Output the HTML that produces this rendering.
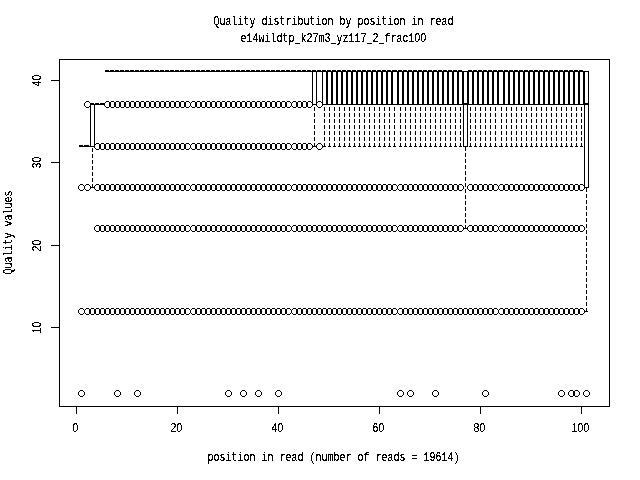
<!DOCTYPE html>
<html lang="en"><head><meta charset="utf-8"><title>Quality distribution by position in read</title>
<style>html,body{margin:0;padding:0;background:#fff}svg{display:block}text{font-family:"Liberation Mono","DejaVu Sans Mono",monospace;font-size:13.0px;fill:#000}text.d,tspan.z{font-family:"Liberation Sans","DejaVu Sans",sans-serif;font-size:13.0px}</style></head><body>
<svg width="640" height="480" viewBox="0 0 640 480">
<rect width="640" height="480" fill="#fff"/>
<defs><path id="c" d="M-1-3h3v1h-3zM-2-2h1v1h-1zM2-2h1v1h-1zM-3-1h1v3h-1zM3-1h1v3h-1zM-2 2h1v1h-1zM2 2h1v1h-1zM-1 3h3v1h-3z"/><filter id="bw" filterUnits="userSpaceOnUse" x="0" y="0" width="640" height="480" color-interpolation-filters="sRGB"><feComponentTransfer><feFuncA type="discrete" tableValues="0 0 0 0 0 0 0 0 0 0 0 0 0 0 0 0 1 1 1 1 1 1 1 1 1 1 1 1 1 1 1 1 1 1 1 1 1 1 1 1"/></feComponentTransfer></filter></defs>
<path shape-rendering="crispEdges" fill="#000" d="M79 146h5v1h-5zM79 146h5v1h-5zM79 146h1v1h-1zM83 146h1v1h-1zM79 145h4v2h-4zM80 146h3v1h-3zM80 146h3v1h-3zM84 146h6v1h-6zM84 146h6v1h-6zM84 146h1v1h-1zM89 146h1v1h-1zM84 145h5v2h-5zM86 146h3v1h-3zM86 146h3v1h-3zM90 146h5v1h-5zM90 104h5v1h-5zM90 104h1v43h-1zM94 104h1v43h-1zM90 103h4v2h-4zM92 184h1v4h-1zM92 178h1v4h-1zM92 172h1v4h-1zM92 166h1v4h-1zM92 160h1v4h-1zM92 154h1v4h-1zM92 148h1v4h-1zM91 187h3v1h-3zM91 104h3v1h-3zM95 104h5v1h-5zM95 104h5v1h-5zM95 104h1v1h-1zM99 104h1v1h-1zM95 103h4v2h-4zM96 104h3v1h-3zM96 104h3v1h-3zM100 104h5v1h-5zM100 104h5v1h-5zM100 104h1v1h-1zM104 104h1v1h-1zM100 103h4v2h-4zM101 104h3v1h-3zM101 104h3v1h-3zM105 71h5v1h-5zM105 71h5v1h-5zM105 71h1v1h-1zM109 71h1v1h-1zM105 70h4v2h-4zM106 71h3v1h-3zM106 71h3v1h-3zM110 71h5v1h-5zM110 71h5v1h-5zM110 71h1v1h-1zM114 71h1v1h-1zM110 70h4v2h-4zM111 71h3v1h-3zM111 71h3v1h-3zM115 71h5v1h-5zM115 71h5v1h-5zM115 71h1v1h-1zM119 71h1v1h-1zM115 70h4v2h-4zM116 71h3v1h-3zM116 71h3v1h-3zM120 71h5v1h-5zM120 71h5v1h-5zM120 71h1v1h-1zM124 71h1v1h-1zM120 70h4v2h-4zM121 71h3v1h-3zM121 71h3v1h-3zM125 71h5v1h-5zM125 71h5v1h-5zM125 71h1v1h-1zM129 71h1v1h-1zM125 70h4v2h-4zM126 71h3v1h-3zM126 71h3v1h-3zM130 71h5v1h-5zM130 71h5v1h-5zM130 71h1v1h-1zM134 71h1v1h-1zM130 70h4v2h-4zM131 71h3v1h-3zM131 71h3v1h-3zM135 71h5v1h-5zM135 71h5v1h-5zM135 71h1v1h-1zM139 71h1v1h-1zM135 70h4v2h-4zM136 71h3v1h-3zM136 71h3v1h-3zM140 71h5v1h-5zM140 71h5v1h-5zM140 71h1v1h-1zM144 71h1v1h-1zM140 70h4v2h-4zM141 71h3v1h-3zM141 71h3v1h-3zM145 71h5v1h-5zM145 71h5v1h-5zM145 71h1v1h-1zM149 71h1v1h-1zM145 70h4v2h-4zM146 71h3v1h-3zM146 71h3v1h-3zM150 71h5v1h-5zM150 71h5v1h-5zM150 71h1v1h-1zM154 71h1v1h-1zM150 70h4v2h-4zM151 71h3v1h-3zM151 71h3v1h-3zM155 71h5v1h-5zM155 71h5v1h-5zM155 71h1v1h-1zM159 71h1v1h-1zM155 70h4v2h-4zM156 71h3v1h-3zM156 71h3v1h-3zM160 71h5v1h-5zM160 71h5v1h-5zM160 71h1v1h-1zM164 71h1v1h-1zM160 70h4v2h-4zM161 71h3v1h-3zM161 71h3v1h-3zM165 71h5v1h-5zM165 71h5v1h-5zM165 71h1v1h-1zM169 71h1v1h-1zM165 70h4v2h-4zM166 71h3v1h-3zM166 71h3v1h-3zM170 71h5v1h-5zM170 71h5v1h-5zM170 71h1v1h-1zM174 71h1v1h-1zM170 70h4v2h-4zM171 71h3v1h-3zM171 71h3v1h-3zM175 71h5v1h-5zM175 71h5v1h-5zM175 71h1v1h-1zM179 71h1v1h-1zM175 70h4v2h-4zM176 71h3v1h-3zM176 71h3v1h-3zM180 71h5v1h-5zM180 71h5v1h-5zM180 71h1v1h-1zM184 71h1v1h-1zM180 70h4v2h-4zM181 71h3v1h-3zM181 71h3v1h-3zM185 71h6v1h-6zM185 71h6v1h-6zM185 71h1v1h-1zM190 71h1v1h-1zM185 70h5v2h-5zM186 71h3v1h-3zM186 71h3v1h-3zM191 71h5v1h-5zM191 71h5v1h-5zM191 71h1v1h-1zM195 71h1v1h-1zM191 70h4v2h-4zM192 71h3v1h-3zM192 71h3v1h-3zM196 71h5v1h-5zM196 71h5v1h-5zM196 71h1v1h-1zM200 71h1v1h-1zM196 70h4v2h-4zM197 71h3v1h-3zM197 71h3v1h-3zM201 71h5v1h-5zM201 71h5v1h-5zM201 71h1v1h-1zM205 71h1v1h-1zM201 70h4v2h-4zM202 71h3v1h-3zM202 71h3v1h-3zM206 71h5v1h-5zM206 71h5v1h-5zM206 71h1v1h-1zM210 71h1v1h-1zM206 70h4v2h-4zM207 71h3v1h-3zM207 71h3v1h-3zM211 71h5v1h-5zM211 71h5v1h-5zM211 71h1v1h-1zM215 71h1v1h-1zM211 70h4v2h-4zM212 71h3v1h-3zM212 71h3v1h-3zM216 71h5v1h-5zM216 71h5v1h-5zM216 71h1v1h-1zM220 71h1v1h-1zM216 70h4v2h-4zM217 71h3v1h-3zM217 71h3v1h-3zM221 71h5v1h-5zM221 71h5v1h-5zM221 71h1v1h-1zM225 71h1v1h-1zM221 70h4v2h-4zM222 71h3v1h-3zM222 71h3v1h-3zM226 71h5v1h-5zM226 71h5v1h-5zM226 71h1v1h-1zM230 71h1v1h-1zM226 70h4v2h-4zM227 71h3v1h-3zM227 71h3v1h-3zM231 71h5v1h-5zM231 71h5v1h-5zM231 71h1v1h-1zM235 71h1v1h-1zM231 70h4v2h-4zM232 71h3v1h-3zM232 71h3v1h-3zM236 71h5v1h-5zM236 71h5v1h-5zM236 71h1v1h-1zM240 71h1v1h-1zM236 70h4v2h-4zM237 71h3v1h-3zM237 71h3v1h-3zM241 71h5v1h-5zM241 71h5v1h-5zM241 71h1v1h-1zM245 71h1v1h-1zM241 70h4v2h-4zM242 71h3v1h-3zM242 71h3v1h-3zM246 71h5v1h-5zM246 71h5v1h-5zM246 71h1v1h-1zM250 71h1v1h-1zM246 70h4v2h-4zM247 71h3v1h-3zM247 71h3v1h-3zM251 71h5v1h-5zM251 71h5v1h-5zM251 71h1v1h-1zM255 71h1v1h-1zM251 70h4v2h-4zM252 71h3v1h-3zM252 71h3v1h-3zM256 71h5v1h-5zM256 71h5v1h-5zM256 71h1v1h-1zM260 71h1v1h-1zM256 70h4v2h-4zM257 71h3v1h-3zM257 71h3v1h-3zM261 71h5v1h-5zM261 71h5v1h-5zM261 71h1v1h-1zM265 71h1v1h-1zM261 70h4v2h-4zM262 71h3v1h-3zM262 71h3v1h-3zM266 71h5v1h-5zM266 71h5v1h-5zM266 71h1v1h-1zM270 71h1v1h-1zM266 70h4v2h-4zM267 71h3v1h-3zM267 71h3v1h-3zM271 71h5v1h-5zM271 71h5v1h-5zM271 71h1v1h-1zM275 71h1v1h-1zM271 70h4v2h-4zM272 71h3v1h-3zM272 71h3v1h-3zM276 71h5v1h-5zM276 71h5v1h-5zM276 71h1v1h-1zM280 71h1v1h-1zM276 70h4v2h-4zM277 71h3v1h-3zM277 71h3v1h-3zM281 71h5v1h-5zM281 71h5v1h-5zM281 71h1v1h-1zM285 71h1v1h-1zM281 70h4v2h-4zM282 71h3v1h-3zM282 71h3v1h-3zM286 71h5v1h-5zM286 71h5v1h-5zM286 71h1v1h-1zM290 71h1v1h-1zM286 70h4v2h-4zM287 71h3v1h-3zM287 71h3v1h-3zM291 71h6v1h-6zM291 71h6v1h-6zM291 71h1v1h-1zM296 71h1v1h-1zM291 70h5v2h-5zM293 71h3v1h-3zM293 71h3v1h-3zM297 71h5v1h-5zM297 71h5v1h-5zM297 71h1v1h-1zM301 71h1v1h-1zM297 70h4v2h-4zM298 71h3v1h-3zM298 71h3v1h-3zM302 71h5v1h-5zM302 71h5v1h-5zM302 71h1v1h-1zM306 71h1v1h-1zM302 70h4v2h-4zM303 71h3v1h-3zM303 71h3v1h-3zM307 71h5v1h-5zM307 71h5v1h-5zM307 71h1v1h-1zM311 71h1v1h-1zM307 70h4v2h-4zM308 71h3v1h-3zM308 71h3v1h-3zM312 104h5v1h-5zM312 71h5v1h-5zM312 71h1v34h-1zM316 71h1v34h-1zM312 70h4v2h-4zM314 143h1v4h-1zM314 137h1v4h-1zM314 131h1v4h-1zM314 125h1v4h-1zM314 119h1v4h-1zM314 113h1v4h-1zM314 107h1v4h-1zM314 104h1v1h-1zM313 146h3v1h-3zM313 71h3v1h-3zM317 71h5v1h-5zM317 71h5v1h-5zM317 71h1v1h-1zM321 71h1v1h-1zM317 70h4v2h-4zM318 71h3v1h-3zM318 71h3v1h-3zM322 104h5v1h-5zM322 71h5v1h-5zM322 71h1v34h-1zM326 71h1v34h-1zM322 70h4v2h-4zM324 143h1v4h-1zM324 137h1v4h-1zM324 131h1v4h-1zM324 125h1v4h-1zM324 119h1v4h-1zM324 113h1v4h-1zM324 107h1v4h-1zM324 104h1v1h-1zM323 146h3v1h-3zM323 71h3v1h-3zM327 104h5v1h-5zM327 71h5v1h-5zM327 71h1v34h-1zM331 71h1v34h-1zM327 70h4v2h-4zM329 143h1v4h-1zM329 137h1v4h-1zM329 131h1v4h-1zM329 125h1v4h-1zM329 119h1v4h-1zM329 113h1v4h-1zM329 107h1v4h-1zM329 104h1v1h-1zM328 146h3v1h-3zM328 71h3v1h-3zM332 104h5v1h-5zM332 71h5v1h-5zM332 71h1v34h-1zM336 71h1v34h-1zM332 70h4v2h-4zM334 143h1v4h-1zM334 137h1v4h-1zM334 131h1v4h-1zM334 125h1v4h-1zM334 119h1v4h-1zM334 113h1v4h-1zM334 107h1v4h-1zM334 104h1v1h-1zM333 146h3v1h-3zM333 71h3v1h-3zM337 104h5v1h-5zM337 71h5v1h-5zM337 71h1v34h-1zM341 71h1v34h-1zM337 70h4v2h-4zM339 143h1v4h-1zM339 137h1v4h-1zM339 131h1v4h-1zM339 125h1v4h-1zM339 119h1v4h-1zM339 113h1v4h-1zM339 107h1v4h-1zM339 104h1v1h-1zM338 146h3v1h-3zM338 71h3v1h-3zM342 104h5v1h-5zM342 71h5v1h-5zM342 71h1v34h-1zM346 71h1v34h-1zM342 70h4v2h-4zM344 143h1v4h-1zM344 137h1v4h-1zM344 131h1v4h-1zM344 125h1v4h-1zM344 119h1v4h-1zM344 113h1v4h-1zM344 107h1v4h-1zM344 104h1v1h-1zM343 146h3v1h-3zM343 71h3v1h-3zM347 104h5v1h-5zM347 71h5v1h-5zM347 71h1v34h-1zM351 71h1v34h-1zM347 70h4v2h-4zM349 143h1v4h-1zM349 137h1v4h-1zM349 131h1v4h-1zM349 125h1v4h-1zM349 119h1v4h-1zM349 113h1v4h-1zM349 107h1v4h-1zM349 104h1v1h-1zM348 146h3v1h-3zM348 71h3v1h-3zM352 104h5v1h-5zM352 71h5v1h-5zM352 71h1v34h-1zM356 71h1v34h-1zM352 70h4v2h-4zM354 143h1v4h-1zM354 137h1v4h-1zM354 131h1v4h-1zM354 125h1v4h-1zM354 119h1v4h-1zM354 113h1v4h-1zM354 107h1v4h-1zM354 104h1v1h-1zM353 146h3v1h-3zM353 71h3v1h-3zM357 104h5v1h-5zM357 71h5v1h-5zM357 71h1v34h-1zM361 71h1v34h-1zM357 70h4v2h-4zM359 143h1v4h-1zM359 137h1v4h-1zM359 131h1v4h-1zM359 125h1v4h-1zM359 119h1v4h-1zM359 113h1v4h-1zM359 107h1v4h-1zM359 104h1v1h-1zM358 146h3v1h-3zM358 71h3v1h-3zM362 104h5v1h-5zM362 71h5v1h-5zM362 71h1v34h-1zM366 71h1v34h-1zM362 70h4v2h-4zM364 143h1v4h-1zM364 137h1v4h-1zM364 131h1v4h-1zM364 125h1v4h-1zM364 119h1v4h-1zM364 113h1v4h-1zM364 107h1v4h-1zM364 104h1v1h-1zM363 146h3v1h-3zM363 71h3v1h-3zM367 104h5v1h-5zM367 71h5v1h-5zM367 71h1v34h-1zM371 71h1v34h-1zM367 70h4v2h-4zM369 143h1v4h-1zM369 137h1v4h-1zM369 131h1v4h-1zM369 125h1v4h-1zM369 119h1v4h-1zM369 113h1v4h-1zM369 107h1v4h-1zM369 104h1v1h-1zM368 146h3v1h-3zM368 71h3v1h-3zM372 104h5v1h-5zM372 71h5v1h-5zM372 71h1v34h-1zM376 71h1v34h-1zM372 70h4v2h-4zM374 143h1v4h-1zM374 137h1v4h-1zM374 131h1v4h-1zM374 125h1v4h-1zM374 119h1v4h-1zM374 113h1v4h-1zM374 107h1v4h-1zM374 104h1v1h-1zM373 146h3v1h-3zM373 71h3v1h-3zM377 104h5v1h-5zM377 71h5v1h-5zM377 71h1v34h-1zM381 71h1v34h-1zM377 70h4v2h-4zM379 143h1v4h-1zM379 137h1v4h-1zM379 131h1v4h-1zM379 125h1v4h-1zM379 119h1v4h-1zM379 113h1v4h-1zM379 107h1v4h-1zM379 104h1v1h-1zM378 146h3v1h-3zM378 71h3v1h-3zM382 104h5v1h-5zM382 71h5v1h-5zM382 71h1v34h-1zM386 71h1v34h-1zM382 70h4v2h-4zM384 143h1v4h-1zM384 137h1v4h-1zM384 131h1v4h-1zM384 125h1v4h-1zM384 119h1v4h-1zM384 113h1v4h-1zM384 107h1v4h-1zM384 104h1v1h-1zM383 146h3v1h-3zM383 71h3v1h-3zM387 104h5v1h-5zM387 71h5v1h-5zM387 71h1v34h-1zM391 71h1v34h-1zM387 70h4v2h-4zM389 143h1v4h-1zM389 137h1v4h-1zM389 131h1v4h-1zM389 125h1v4h-1zM389 119h1v4h-1zM389 113h1v4h-1zM389 107h1v4h-1zM389 104h1v1h-1zM388 146h3v1h-3zM388 71h3v1h-3zM392 104h6v1h-6zM392 71h6v1h-6zM392 71h1v34h-1zM397 71h1v34h-1zM392 70h5v2h-5zM394 143h1v4h-1zM394 137h1v4h-1zM394 131h1v4h-1zM394 125h1v4h-1zM394 119h1v4h-1zM394 113h1v4h-1zM394 107h1v4h-1zM394 104h1v1h-1zM393 146h3v1h-3zM393 71h3v1h-3zM398 104h5v1h-5zM398 71h5v1h-5zM398 71h1v34h-1zM402 71h1v34h-1zM398 70h4v2h-4zM400 143h1v4h-1zM400 137h1v4h-1zM400 131h1v4h-1zM400 125h1v4h-1zM400 119h1v4h-1zM400 113h1v4h-1zM400 107h1v4h-1zM400 104h1v1h-1zM399 146h3v1h-3zM399 71h3v1h-3zM403 104h5v1h-5zM403 71h5v1h-5zM403 71h1v34h-1zM407 71h1v34h-1zM403 70h4v2h-4zM405 143h1v4h-1zM405 137h1v4h-1zM405 131h1v4h-1zM405 125h1v4h-1zM405 119h1v4h-1zM405 113h1v4h-1zM405 107h1v4h-1zM405 104h1v1h-1zM404 146h3v1h-3zM404 71h3v1h-3zM408 104h5v1h-5zM408 71h5v1h-5zM408 71h1v34h-1zM412 71h1v34h-1zM408 70h4v2h-4zM410 143h1v4h-1zM410 137h1v4h-1zM410 131h1v4h-1zM410 125h1v4h-1zM410 119h1v4h-1zM410 113h1v4h-1zM410 107h1v4h-1zM410 104h1v1h-1zM409 146h3v1h-3zM409 71h3v1h-3zM413 104h5v1h-5zM413 71h5v1h-5zM413 71h1v34h-1zM417 71h1v34h-1zM413 70h4v2h-4zM415 143h1v4h-1zM415 137h1v4h-1zM415 131h1v4h-1zM415 125h1v4h-1zM415 119h1v4h-1zM415 113h1v4h-1zM415 107h1v4h-1zM415 104h1v1h-1zM414 146h3v1h-3zM414 71h3v1h-3zM418 104h5v1h-5zM418 71h5v1h-5zM418 71h1v34h-1zM422 71h1v34h-1zM418 70h4v2h-4zM420 143h1v4h-1zM420 137h1v4h-1zM420 131h1v4h-1zM420 125h1v4h-1zM420 119h1v4h-1zM420 113h1v4h-1zM420 107h1v4h-1zM420 104h1v1h-1zM419 146h3v1h-3zM419 71h3v1h-3zM423 104h5v1h-5zM423 71h5v1h-5zM423 71h1v34h-1zM427 71h1v34h-1zM423 70h4v2h-4zM425 143h1v4h-1zM425 137h1v4h-1zM425 131h1v4h-1zM425 125h1v4h-1zM425 119h1v4h-1zM425 113h1v4h-1zM425 107h1v4h-1zM425 104h1v1h-1zM424 146h3v1h-3zM424 71h3v1h-3zM428 104h5v1h-5zM428 71h5v1h-5zM428 71h1v34h-1zM432 71h1v34h-1zM428 70h4v2h-4zM430 143h1v4h-1zM430 137h1v4h-1zM430 131h1v4h-1zM430 125h1v4h-1zM430 119h1v4h-1zM430 113h1v4h-1zM430 107h1v4h-1zM430 104h1v1h-1zM429 146h3v1h-3zM429 71h3v1h-3zM433 104h5v1h-5zM433 71h5v1h-5zM433 71h1v34h-1zM437 71h1v34h-1zM433 70h4v2h-4zM435 143h1v4h-1zM435 137h1v4h-1zM435 131h1v4h-1zM435 125h1v4h-1zM435 119h1v4h-1zM435 113h1v4h-1zM435 107h1v4h-1zM435 104h1v1h-1zM434 146h3v1h-3zM434 71h3v1h-3zM438 104h5v1h-5zM438 71h5v1h-5zM438 71h1v34h-1zM442 71h1v34h-1zM438 70h4v2h-4zM440 143h1v4h-1zM440 137h1v4h-1zM440 131h1v4h-1zM440 125h1v4h-1zM440 119h1v4h-1zM440 113h1v4h-1zM440 107h1v4h-1zM440 104h1v1h-1zM439 146h3v1h-3zM439 71h3v1h-3zM443 104h5v1h-5zM443 71h5v1h-5zM443 71h1v34h-1zM447 71h1v34h-1zM443 70h4v2h-4zM445 143h1v4h-1zM445 137h1v4h-1zM445 131h1v4h-1zM445 125h1v4h-1zM445 119h1v4h-1zM445 113h1v4h-1zM445 107h1v4h-1zM445 104h1v1h-1zM444 146h3v1h-3zM444 71h3v1h-3zM448 104h5v1h-5zM448 71h5v1h-5zM448 71h1v34h-1zM452 71h1v34h-1zM448 70h4v2h-4zM450 143h1v4h-1zM450 137h1v4h-1zM450 131h1v4h-1zM450 125h1v4h-1zM450 119h1v4h-1zM450 113h1v4h-1zM450 107h1v4h-1zM450 104h1v1h-1zM449 146h3v1h-3zM449 71h3v1h-3zM453 104h5v1h-5zM453 71h5v1h-5zM453 71h1v34h-1zM457 71h1v34h-1zM453 70h4v2h-4zM455 143h1v4h-1zM455 137h1v4h-1zM455 131h1v4h-1zM455 125h1v4h-1zM455 119h1v4h-1zM455 113h1v4h-1zM455 107h1v4h-1zM455 104h1v1h-1zM454 146h3v1h-3zM454 71h3v1h-3zM458 104h5v1h-5zM458 71h5v1h-5zM458 71h1v34h-1zM462 71h1v34h-1zM458 70h4v2h-4zM460 143h1v4h-1zM460 137h1v4h-1zM460 131h1v4h-1zM460 125h1v4h-1zM460 119h1v4h-1zM460 113h1v4h-1zM460 107h1v4h-1zM460 104h1v1h-1zM459 146h3v1h-3zM459 71h3v1h-3zM463 146h5v1h-5zM463 71h5v1h-5zM463 71h1v76h-1zM467 71h1v76h-1zM463 103h4v2h-4zM465 225h1v4h-1zM465 219h1v4h-1zM465 213h1v4h-1zM465 207h1v4h-1zM465 201h1v4h-1zM465 195h1v4h-1zM465 189h1v4h-1zM465 183h1v4h-1zM465 177h1v4h-1zM465 171h1v4h-1zM465 165h1v4h-1zM465 159h1v4h-1zM465 153h1v4h-1zM465 147h1v4h-1zM464 228h3v1h-3zM464 71h3v1h-3zM468 104h5v1h-5zM468 71h5v1h-5zM468 71h1v34h-1zM472 71h1v34h-1zM468 70h4v2h-4zM470 143h1v4h-1zM470 137h1v4h-1zM470 131h1v4h-1zM470 125h1v4h-1zM470 119h1v4h-1zM470 113h1v4h-1zM470 107h1v4h-1zM470 104h1v1h-1zM469 146h3v1h-3zM469 71h3v1h-3zM473 104h5v1h-5zM473 71h5v1h-5zM473 71h1v34h-1zM477 71h1v34h-1zM473 70h4v2h-4zM475 143h1v4h-1zM475 137h1v4h-1zM475 131h1v4h-1zM475 125h1v4h-1zM475 119h1v4h-1zM475 113h1v4h-1zM475 107h1v4h-1zM475 104h1v1h-1zM474 146h3v1h-3zM474 71h3v1h-3zM478 104h5v1h-5zM478 71h5v1h-5zM478 71h1v34h-1zM482 71h1v34h-1zM478 70h4v2h-4zM480 143h1v4h-1zM480 137h1v4h-1zM480 131h1v4h-1zM480 125h1v4h-1zM480 119h1v4h-1zM480 113h1v4h-1zM480 107h1v4h-1zM480 104h1v1h-1zM479 146h3v1h-3zM479 71h3v1h-3zM483 104h5v1h-5zM483 71h5v1h-5zM483 71h1v34h-1zM487 71h1v34h-1zM483 70h4v2h-4zM485 143h1v4h-1zM485 137h1v4h-1zM485 131h1v4h-1zM485 125h1v4h-1zM485 119h1v4h-1zM485 113h1v4h-1zM485 107h1v4h-1zM485 104h1v1h-1zM484 146h3v1h-3zM484 71h3v1h-3zM488 104h5v1h-5zM488 71h5v1h-5zM488 71h1v34h-1zM492 71h1v34h-1zM488 70h4v2h-4zM490 143h1v4h-1zM490 137h1v4h-1zM490 131h1v4h-1zM490 125h1v4h-1zM490 119h1v4h-1zM490 113h1v4h-1zM490 107h1v4h-1zM490 104h1v1h-1zM489 146h3v1h-3zM489 71h3v1h-3zM493 104h5v1h-5zM493 71h5v1h-5zM493 71h1v34h-1zM497 71h1v34h-1zM493 70h4v2h-4zM495 143h1v4h-1zM495 137h1v4h-1zM495 131h1v4h-1zM495 125h1v4h-1zM495 119h1v4h-1zM495 113h1v4h-1zM495 107h1v4h-1zM495 104h1v1h-1zM494 146h3v1h-3zM494 71h3v1h-3zM498 104h6v1h-6zM498 71h6v1h-6zM498 71h1v34h-1zM503 71h1v34h-1zM498 70h5v2h-5zM501 143h1v4h-1zM501 137h1v4h-1zM501 131h1v4h-1zM501 125h1v4h-1zM501 119h1v4h-1zM501 113h1v4h-1zM501 107h1v4h-1zM501 104h1v1h-1zM499 146h4v1h-4zM499 71h4v1h-4zM504 104h5v1h-5zM504 71h5v1h-5zM504 71h1v34h-1zM508 71h1v34h-1zM504 70h4v2h-4zM506 143h1v4h-1zM506 137h1v4h-1zM506 131h1v4h-1zM506 125h1v4h-1zM506 119h1v4h-1zM506 113h1v4h-1zM506 107h1v4h-1zM506 104h1v1h-1zM505 146h3v1h-3zM505 71h3v1h-3zM509 104h5v1h-5zM509 71h5v1h-5zM509 71h1v34h-1zM513 71h1v34h-1zM509 70h4v2h-4zM511 143h1v4h-1zM511 137h1v4h-1zM511 131h1v4h-1zM511 125h1v4h-1zM511 119h1v4h-1zM511 113h1v4h-1zM511 107h1v4h-1zM511 104h1v1h-1zM510 146h3v1h-3zM510 71h3v1h-3zM514 104h5v1h-5zM514 71h5v1h-5zM514 71h1v34h-1zM518 71h1v34h-1zM514 70h4v2h-4zM516 143h1v4h-1zM516 137h1v4h-1zM516 131h1v4h-1zM516 125h1v4h-1zM516 119h1v4h-1zM516 113h1v4h-1zM516 107h1v4h-1zM516 104h1v1h-1zM515 146h3v1h-3zM515 71h3v1h-3zM519 104h5v1h-5zM519 71h5v1h-5zM519 71h1v34h-1zM523 71h1v34h-1zM519 70h4v2h-4zM521 143h1v4h-1zM521 137h1v4h-1zM521 131h1v4h-1zM521 125h1v4h-1zM521 119h1v4h-1zM521 113h1v4h-1zM521 107h1v4h-1zM521 104h1v1h-1zM520 146h3v1h-3zM520 71h3v1h-3zM524 104h5v1h-5zM524 71h5v1h-5zM524 71h1v34h-1zM528 71h1v34h-1zM524 70h4v2h-4zM526 143h1v4h-1zM526 137h1v4h-1zM526 131h1v4h-1zM526 125h1v4h-1zM526 119h1v4h-1zM526 113h1v4h-1zM526 107h1v4h-1zM526 104h1v1h-1zM525 146h3v1h-3zM525 71h3v1h-3zM529 104h5v1h-5zM529 71h5v1h-5zM529 71h1v34h-1zM533 71h1v34h-1zM529 70h4v2h-4zM531 143h1v4h-1zM531 137h1v4h-1zM531 131h1v4h-1zM531 125h1v4h-1zM531 119h1v4h-1zM531 113h1v4h-1zM531 107h1v4h-1zM531 104h1v1h-1zM530 146h3v1h-3zM530 71h3v1h-3zM534 104h5v1h-5zM534 71h5v1h-5zM534 71h1v34h-1zM538 71h1v34h-1zM534 70h4v2h-4zM536 143h1v4h-1zM536 137h1v4h-1zM536 131h1v4h-1zM536 125h1v4h-1zM536 119h1v4h-1zM536 113h1v4h-1zM536 107h1v4h-1zM536 104h1v1h-1zM535 146h3v1h-3zM535 71h3v1h-3zM539 104h5v1h-5zM539 71h5v1h-5zM539 71h1v34h-1zM543 71h1v34h-1zM539 70h4v2h-4zM541 143h1v4h-1zM541 137h1v4h-1zM541 131h1v4h-1zM541 125h1v4h-1zM541 119h1v4h-1zM541 113h1v4h-1zM541 107h1v4h-1zM541 104h1v1h-1zM540 146h3v1h-3zM540 71h3v1h-3zM544 104h5v1h-5zM544 71h5v1h-5zM544 71h1v34h-1zM548 71h1v34h-1zM544 70h4v2h-4zM546 143h1v4h-1zM546 137h1v4h-1zM546 131h1v4h-1zM546 125h1v4h-1zM546 119h1v4h-1zM546 113h1v4h-1zM546 107h1v4h-1zM546 104h1v1h-1zM545 146h3v1h-3zM545 71h3v1h-3zM549 104h5v1h-5zM549 71h5v1h-5zM549 71h1v34h-1zM553 71h1v34h-1zM549 70h4v2h-4zM551 143h1v4h-1zM551 137h1v4h-1zM551 131h1v4h-1zM551 125h1v4h-1zM551 119h1v4h-1zM551 113h1v4h-1zM551 107h1v4h-1zM551 104h1v1h-1zM550 146h3v1h-3zM550 71h3v1h-3zM554 104h5v1h-5zM554 71h5v1h-5zM554 71h1v34h-1zM558 71h1v34h-1zM554 70h4v2h-4zM556 143h1v4h-1zM556 137h1v4h-1zM556 131h1v4h-1zM556 125h1v4h-1zM556 119h1v4h-1zM556 113h1v4h-1zM556 107h1v4h-1zM556 104h1v1h-1zM555 146h3v1h-3zM555 71h3v1h-3zM559 104h5v1h-5zM559 71h5v1h-5zM559 71h1v34h-1zM563 71h1v34h-1zM559 70h4v2h-4zM561 143h1v4h-1zM561 137h1v4h-1zM561 131h1v4h-1zM561 125h1v4h-1zM561 119h1v4h-1zM561 113h1v4h-1zM561 107h1v4h-1zM561 104h1v1h-1zM560 146h3v1h-3zM560 71h3v1h-3zM564 104h5v1h-5zM564 71h5v1h-5zM564 71h1v34h-1zM568 71h1v34h-1zM564 70h4v2h-4zM566 143h1v4h-1zM566 137h1v4h-1zM566 131h1v4h-1zM566 125h1v4h-1zM566 119h1v4h-1zM566 113h1v4h-1zM566 107h1v4h-1zM566 104h1v1h-1zM565 146h3v1h-3zM565 71h3v1h-3zM569 104h5v1h-5zM569 71h5v1h-5zM569 71h1v34h-1zM573 71h1v34h-1zM569 70h4v2h-4zM571 143h1v4h-1zM571 137h1v4h-1zM571 131h1v4h-1zM571 125h1v4h-1zM571 119h1v4h-1zM571 113h1v4h-1zM571 107h1v4h-1zM571 104h1v1h-1zM570 146h3v1h-3zM570 71h3v1h-3zM574 104h5v1h-5zM574 71h5v1h-5zM574 71h1v34h-1zM578 71h1v34h-1zM574 70h4v2h-4zM576 143h1v4h-1zM576 137h1v4h-1zM576 131h1v4h-1zM576 125h1v4h-1zM576 119h1v4h-1zM576 113h1v4h-1zM576 107h1v4h-1zM576 104h1v1h-1zM575 146h3v1h-3zM575 71h3v1h-3zM579 104h5v1h-5zM579 71h5v1h-5zM579 71h1v34h-1zM583 71h1v34h-1zM579 70h4v2h-4zM581 143h1v4h-1zM581 137h1v4h-1zM581 131h1v4h-1zM581 125h1v4h-1zM581 119h1v4h-1zM581 113h1v4h-1zM581 107h1v4h-1zM581 104h1v1h-1zM580 146h3v1h-3zM580 71h3v1h-3zM584 187h5v1h-5zM584 71h5v1h-5zM584 71h1v117h-1zM588 71h1v117h-1zM584 103h4v2h-4zM586 308h1v4h-1zM586 302h1v4h-1zM586 296h1v4h-1zM586 290h1v4h-1zM586 284h1v4h-1zM586 278h1v4h-1zM586 272h1v4h-1zM586 266h1v4h-1zM586 260h1v4h-1zM586 254h1v4h-1zM586 248h1v4h-1zM586 242h1v4h-1zM586 236h1v4h-1zM586 230h1v4h-1zM586 224h1v4h-1zM586 218h1v4h-1zM586 212h1v4h-1zM586 206h1v4h-1zM586 200h1v4h-1zM586 194h1v4h-1zM586 188h1v4h-1zM585 311h3v1h-3zM585 71h3v1h-3zM59 59h551v1h-551zM59 406h551v1h-551zM59 59h1v348h-1zM609 59h1v348h-1zM76 406h1v8h-1zM177 406h1v8h-1zM278 406h1v8h-1zM379 406h1v8h-1zM480 406h1v8h-1zM581 406h1v8h-1zM51 327h9v1h-9zM51 245h9v1h-9zM51 162h9v1h-9zM51 80h9v1h-9z"/>
<g shape-rendering="crispEdges" fill="#000">
<use href="#c" x="81" y="187"/><use href="#c" x="81" y="311"/><use href="#c" x="81" y="393"/><use href="#c" x="87" y="104"/><use href="#c" x="87" y="187"/><use href="#c" x="87" y="311"/><use href="#c" x="92" y="311"/><use href="#c" x="97" y="146"/><use href="#c" x="97" y="187"/><use href="#c" x="97" y="228"/><use href="#c" x="97" y="311"/><use href="#c" x="102" y="146"/><use href="#c" x="102" y="187"/><use href="#c" x="102" y="228"/><use href="#c" x="102" y="311"/><use href="#c" x="107" y="104"/><use href="#c" x="107" y="146"/><use href="#c" x="107" y="187"/><use href="#c" x="107" y="228"/><use href="#c" x="107" y="311"/><use href="#c" x="112" y="104"/><use href="#c" x="112" y="146"/><use href="#c" x="112" y="187"/><use href="#c" x="112" y="228"/><use href="#c" x="112" y="311"/><use href="#c" x="117" y="104"/><use href="#c" x="117" y="146"/><use href="#c" x="117" y="187"/><use href="#c" x="117" y="228"/><use href="#c" x="117" y="311"/><use href="#c" x="117" y="393"/><use href="#c" x="122" y="104"/><use href="#c" x="122" y="146"/><use href="#c" x="122" y="187"/><use href="#c" x="122" y="228"/><use href="#c" x="122" y="311"/><use href="#c" x="127" y="104"/><use href="#c" x="127" y="146"/><use href="#c" x="127" y="187"/><use href="#c" x="127" y="228"/><use href="#c" x="127" y="311"/><use href="#c" x="132" y="104"/><use href="#c" x="132" y="146"/><use href="#c" x="132" y="187"/><use href="#c" x="132" y="228"/><use href="#c" x="132" y="311"/><use href="#c" x="137" y="104"/><use href="#c" x="137" y="146"/><use href="#c" x="137" y="187"/><use href="#c" x="137" y="228"/><use href="#c" x="137" y="311"/><use href="#c" x="137" y="393"/><use href="#c" x="142" y="104"/><use href="#c" x="142" y="146"/><use href="#c" x="142" y="187"/><use href="#c" x="142" y="228"/><use href="#c" x="142" y="311"/><use href="#c" x="147" y="104"/><use href="#c" x="147" y="146"/><use href="#c" x="147" y="187"/><use href="#c" x="147" y="228"/><use href="#c" x="147" y="311"/><use href="#c" x="152" y="104"/><use href="#c" x="152" y="146"/><use href="#c" x="152" y="187"/><use href="#c" x="152" y="228"/><use href="#c" x="152" y="311"/><use href="#c" x="157" y="104"/><use href="#c" x="157" y="146"/><use href="#c" x="157" y="187"/><use href="#c" x="157" y="228"/><use href="#c" x="157" y="311"/><use href="#c" x="162" y="104"/><use href="#c" x="162" y="146"/><use href="#c" x="162" y="187"/><use href="#c" x="162" y="228"/><use href="#c" x="162" y="311"/><use href="#c" x="167" y="104"/><use href="#c" x="167" y="146"/><use href="#c" x="167" y="187"/><use href="#c" x="167" y="228"/><use href="#c" x="167" y="311"/><use href="#c" x="172" y="104"/><use href="#c" x="172" y="146"/><use href="#c" x="172" y="187"/><use href="#c" x="172" y="228"/><use href="#c" x="172" y="311"/><use href="#c" x="177" y="104"/><use href="#c" x="177" y="146"/><use href="#c" x="177" y="187"/><use href="#c" x="177" y="228"/><use href="#c" x="177" y="311"/><use href="#c" x="182" y="104"/><use href="#c" x="182" y="146"/><use href="#c" x="182" y="187"/><use href="#c" x="182" y="228"/><use href="#c" x="182" y="311"/><use href="#c" x="187" y="104"/><use href="#c" x="187" y="146"/><use href="#c" x="187" y="187"/><use href="#c" x="187" y="228"/><use href="#c" x="187" y="311"/><use href="#c" x="193" y="104"/><use href="#c" x="193" y="146"/><use href="#c" x="193" y="187"/><use href="#c" x="193" y="228"/><use href="#c" x="193" y="311"/><use href="#c" x="198" y="104"/><use href="#c" x="198" y="146"/><use href="#c" x="198" y="187"/><use href="#c" x="198" y="228"/><use href="#c" x="198" y="311"/><use href="#c" x="203" y="104"/><use href="#c" x="203" y="146"/><use href="#c" x="203" y="187"/><use href="#c" x="203" y="228"/><use href="#c" x="203" y="311"/><use href="#c" x="208" y="104"/><use href="#c" x="208" y="146"/><use href="#c" x="208" y="187"/><use href="#c" x="208" y="228"/><use href="#c" x="208" y="311"/><use href="#c" x="213" y="104"/><use href="#c" x="213" y="146"/><use href="#c" x="213" y="187"/><use href="#c" x="213" y="228"/><use href="#c" x="213" y="311"/><use href="#c" x="218" y="104"/><use href="#c" x="218" y="146"/><use href="#c" x="218" y="187"/><use href="#c" x="218" y="228"/><use href="#c" x="218" y="311"/><use href="#c" x="223" y="104"/><use href="#c" x="223" y="146"/><use href="#c" x="223" y="187"/><use href="#c" x="223" y="228"/><use href="#c" x="223" y="311"/><use href="#c" x="228" y="104"/><use href="#c" x="228" y="146"/><use href="#c" x="228" y="187"/><use href="#c" x="228" y="228"/><use href="#c" x="228" y="311"/><use href="#c" x="228" y="393"/><use href="#c" x="233" y="104"/><use href="#c" x="233" y="146"/><use href="#c" x="233" y="187"/><use href="#c" x="233" y="228"/><use href="#c" x="233" y="311"/><use href="#c" x="238" y="104"/><use href="#c" x="238" y="146"/><use href="#c" x="238" y="187"/><use href="#c" x="238" y="228"/><use href="#c" x="238" y="311"/><use href="#c" x="243" y="104"/><use href="#c" x="243" y="146"/><use href="#c" x="243" y="187"/><use href="#c" x="243" y="228"/><use href="#c" x="243" y="311"/><use href="#c" x="243" y="393"/><use href="#c" x="248" y="104"/><use href="#c" x="248" y="146"/><use href="#c" x="248" y="187"/><use href="#c" x="248" y="228"/><use href="#c" x="248" y="311"/><use href="#c" x="253" y="104"/><use href="#c" x="253" y="146"/><use href="#c" x="253" y="187"/><use href="#c" x="253" y="228"/><use href="#c" x="253" y="311"/><use href="#c" x="258" y="104"/><use href="#c" x="258" y="146"/><use href="#c" x="258" y="187"/><use href="#c" x="258" y="228"/><use href="#c" x="258" y="311"/><use href="#c" x="258" y="393"/><use href="#c" x="263" y="104"/><use href="#c" x="263" y="146"/><use href="#c" x="263" y="187"/><use href="#c" x="263" y="228"/><use href="#c" x="263" y="311"/><use href="#c" x="268" y="104"/><use href="#c" x="268" y="146"/><use href="#c" x="268" y="187"/><use href="#c" x="268" y="228"/><use href="#c" x="268" y="311"/><use href="#c" x="273" y="104"/><use href="#c" x="273" y="146"/><use href="#c" x="273" y="187"/><use href="#c" x="273" y="228"/><use href="#c" x="273" y="311"/><use href="#c" x="278" y="104"/><use href="#c" x="278" y="146"/><use href="#c" x="278" y="187"/><use href="#c" x="278" y="228"/><use href="#c" x="278" y="311"/><use href="#c" x="278" y="393"/><use href="#c" x="283" y="104"/><use href="#c" x="283" y="146"/><use href="#c" x="283" y="187"/><use href="#c" x="283" y="228"/><use href="#c" x="283" y="311"/><use href="#c" x="288" y="104"/><use href="#c" x="288" y="146"/><use href="#c" x="288" y="187"/><use href="#c" x="288" y="228"/><use href="#c" x="288" y="311"/><use href="#c" x="294" y="104"/><use href="#c" x="294" y="146"/><use href="#c" x="294" y="187"/><use href="#c" x="294" y="228"/><use href="#c" x="294" y="311"/><use href="#c" x="299" y="104"/><use href="#c" x="299" y="146"/><use href="#c" x="299" y="187"/><use href="#c" x="299" y="228"/><use href="#c" x="299" y="311"/><use href="#c" x="304" y="104"/><use href="#c" x="304" y="146"/><use href="#c" x="304" y="187"/><use href="#c" x="304" y="228"/><use href="#c" x="304" y="311"/><use href="#c" x="309" y="104"/><use href="#c" x="309" y="146"/><use href="#c" x="309" y="187"/><use href="#c" x="309" y="228"/><use href="#c" x="309" y="311"/><use href="#c" x="314" y="187"/><use href="#c" x="314" y="228"/><use href="#c" x="314" y="311"/><use href="#c" x="319" y="104"/><use href="#c" x="319" y="146"/><use href="#c" x="319" y="187"/><use href="#c" x="319" y="228"/><use href="#c" x="319" y="311"/><use href="#c" x="324" y="187"/><use href="#c" x="324" y="228"/><use href="#c" x="324" y="311"/><use href="#c" x="329" y="187"/><use href="#c" x="329" y="228"/><use href="#c" x="329" y="311"/><use href="#c" x="334" y="187"/><use href="#c" x="334" y="228"/><use href="#c" x="334" y="311"/><use href="#c" x="339" y="187"/><use href="#c" x="339" y="228"/><use href="#c" x="339" y="311"/><use href="#c" x="344" y="187"/><use href="#c" x="344" y="228"/><use href="#c" x="344" y="311"/><use href="#c" x="349" y="187"/><use href="#c" x="349" y="228"/><use href="#c" x="349" y="311"/><use href="#c" x="354" y="187"/><use href="#c" x="354" y="228"/><use href="#c" x="354" y="311"/><use href="#c" x="359" y="187"/><use href="#c" x="359" y="228"/><use href="#c" x="359" y="311"/><use href="#c" x="364" y="187"/><use href="#c" x="364" y="228"/><use href="#c" x="364" y="311"/><use href="#c" x="369" y="187"/><use href="#c" x="369" y="228"/><use href="#c" x="369" y="311"/><use href="#c" x="374" y="187"/><use href="#c" x="374" y="228"/><use href="#c" x="374" y="311"/><use href="#c" x="379" y="187"/><use href="#c" x="379" y="228"/><use href="#c" x="379" y="311"/><use href="#c" x="384" y="187"/><use href="#c" x="384" y="228"/><use href="#c" x="384" y="311"/><use href="#c" x="389" y="187"/><use href="#c" x="389" y="228"/><use href="#c" x="389" y="311"/><use href="#c" x="394" y="187"/><use href="#c" x="394" y="228"/><use href="#c" x="394" y="311"/><use href="#c" x="400" y="187"/><use href="#c" x="400" y="228"/><use href="#c" x="400" y="311"/><use href="#c" x="400" y="393"/><use href="#c" x="405" y="187"/><use href="#c" x="405" y="228"/><use href="#c" x="405" y="311"/><use href="#c" x="410" y="187"/><use href="#c" x="410" y="228"/><use href="#c" x="410" y="311"/><use href="#c" x="410" y="393"/><use href="#c" x="415" y="187"/><use href="#c" x="415" y="228"/><use href="#c" x="415" y="311"/><use href="#c" x="420" y="187"/><use href="#c" x="420" y="228"/><use href="#c" x="420" y="311"/><use href="#c" x="425" y="187"/><use href="#c" x="425" y="228"/><use href="#c" x="425" y="311"/><use href="#c" x="430" y="187"/><use href="#c" x="430" y="228"/><use href="#c" x="430" y="311"/><use href="#c" x="435" y="187"/><use href="#c" x="435" y="228"/><use href="#c" x="435" y="311"/><use href="#c" x="435" y="393"/><use href="#c" x="440" y="187"/><use href="#c" x="440" y="228"/><use href="#c" x="440" y="311"/><use href="#c" x="445" y="187"/><use href="#c" x="445" y="228"/><use href="#c" x="445" y="311"/><use href="#c" x="450" y="187"/><use href="#c" x="450" y="228"/><use href="#c" x="450" y="311"/><use href="#c" x="455" y="187"/><use href="#c" x="455" y="228"/><use href="#c" x="455" y="311"/><use href="#c" x="460" y="187"/><use href="#c" x="460" y="228"/><use href="#c" x="460" y="311"/><use href="#c" x="465" y="311"/><use href="#c" x="470" y="187"/><use href="#c" x="470" y="228"/><use href="#c" x="470" y="311"/><use href="#c" x="475" y="187"/><use href="#c" x="475" y="228"/><use href="#c" x="475" y="311"/><use href="#c" x="480" y="187"/><use href="#c" x="480" y="228"/><use href="#c" x="480" y="311"/><use href="#c" x="485" y="187"/><use href="#c" x="485" y="228"/><use href="#c" x="485" y="311"/><use href="#c" x="485" y="393"/><use href="#c" x="490" y="187"/><use href="#c" x="490" y="228"/><use href="#c" x="490" y="311"/><use href="#c" x="495" y="187"/><use href="#c" x="495" y="228"/><use href="#c" x="495" y="311"/><use href="#c" x="501" y="187"/><use href="#c" x="501" y="228"/><use href="#c" x="501" y="311"/><use href="#c" x="506" y="187"/><use href="#c" x="506" y="228"/><use href="#c" x="506" y="311"/><use href="#c" x="511" y="187"/><use href="#c" x="511" y="228"/><use href="#c" x="511" y="311"/><use href="#c" x="516" y="187"/><use href="#c" x="516" y="228"/><use href="#c" x="516" y="311"/><use href="#c" x="521" y="187"/><use href="#c" x="521" y="228"/><use href="#c" x="521" y="311"/><use href="#c" x="526" y="187"/><use href="#c" x="526" y="228"/><use href="#c" x="526" y="311"/><use href="#c" x="531" y="187"/><use href="#c" x="531" y="228"/><use href="#c" x="531" y="311"/><use href="#c" x="536" y="187"/><use href="#c" x="536" y="228"/><use href="#c" x="536" y="311"/><use href="#c" x="541" y="187"/><use href="#c" x="541" y="228"/><use href="#c" x="541" y="311"/><use href="#c" x="546" y="187"/><use href="#c" x="546" y="228"/><use href="#c" x="546" y="311"/><use href="#c" x="551" y="187"/><use href="#c" x="551" y="228"/><use href="#c" x="551" y="311"/><use href="#c" x="556" y="187"/><use href="#c" x="556" y="228"/><use href="#c" x="556" y="311"/><use href="#c" x="561" y="187"/><use href="#c" x="561" y="228"/><use href="#c" x="561" y="311"/><use href="#c" x="561" y="393"/><use href="#c" x="566" y="187"/><use href="#c" x="566" y="228"/><use href="#c" x="566" y="311"/><use href="#c" x="571" y="187"/><use href="#c" x="571" y="228"/><use href="#c" x="571" y="311"/><use href="#c" x="571" y="393"/><use href="#c" x="576" y="187"/><use href="#c" x="576" y="228"/><use href="#c" x="576" y="311"/><use href="#c" x="576" y="393"/><use href="#c" x="581" y="187"/><use href="#c" x="581" y="228"/><use href="#c" x="581" y="311"/><use href="#c" x="586" y="393"/>
</g>
<g filter="url(#bw)">
<text x="213.5" y="25" textLength="240" lengthAdjust="spacingAndGlyphs">Quality distribution by position in read</text>
<text x="240.5" y="42" textLength="186.08" lengthAdjust="spacingAndGlyphs">e14wildtp_k27m3_yz117_2_frac1<tspan class="z" letter-spacing="0.571" dx="0.104">00</tspan></text>
<text x="207.5" y="461" textLength="252" lengthAdjust="spacingAndGlyphs">position in read (number of reads = 19614)</text>
<text class="d" letter-spacing="0.223" x="72.6" y="432" textLength="6" lengthAdjust="spacingAndGlyphs">0</text>
<text class="d" letter-spacing="0.223" x="170.6" y="432" textLength="12" lengthAdjust="spacingAndGlyphs">20</text>
<text class="d" letter-spacing="0.223" x="271.6" y="432" textLength="12" lengthAdjust="spacingAndGlyphs">40</text>
<text class="d" letter-spacing="0.223" x="372.6" y="432" textLength="12" lengthAdjust="spacingAndGlyphs">60</text>
<text class="d" letter-spacing="0.223" x="473.6" y="432" textLength="12" lengthAdjust="spacingAndGlyphs">80</text>
<text class="d" letter-spacing="0.223" x="571.6" y="432" textLength="18" lengthAdjust="spacingAndGlyphs">100</text>
<text class="d" letter-spacing="0.223" transform="translate(41 333) rotate(-90)" x="-0.4" textLength="12" lengthAdjust="spacingAndGlyphs">10</text>
<text class="d" letter-spacing="0.223" transform="translate(41 251) rotate(-90)" x="-0.4" textLength="12" lengthAdjust="spacingAndGlyphs">20</text>
<text class="d" letter-spacing="0.223" transform="translate(41 168) rotate(-90)" x="-0.4" textLength="12" lengthAdjust="spacingAndGlyphs">30</text>
<text class="d" letter-spacing="0.223" transform="translate(41 86) rotate(-90)" x="-0.4" textLength="12" lengthAdjust="spacingAndGlyphs">40</text>
<text transform="translate(12 274) rotate(-90)" x="-0.5" textLength="84" lengthAdjust="spacingAndGlyphs">Quality values</text>
</g>
</svg></body></html>
